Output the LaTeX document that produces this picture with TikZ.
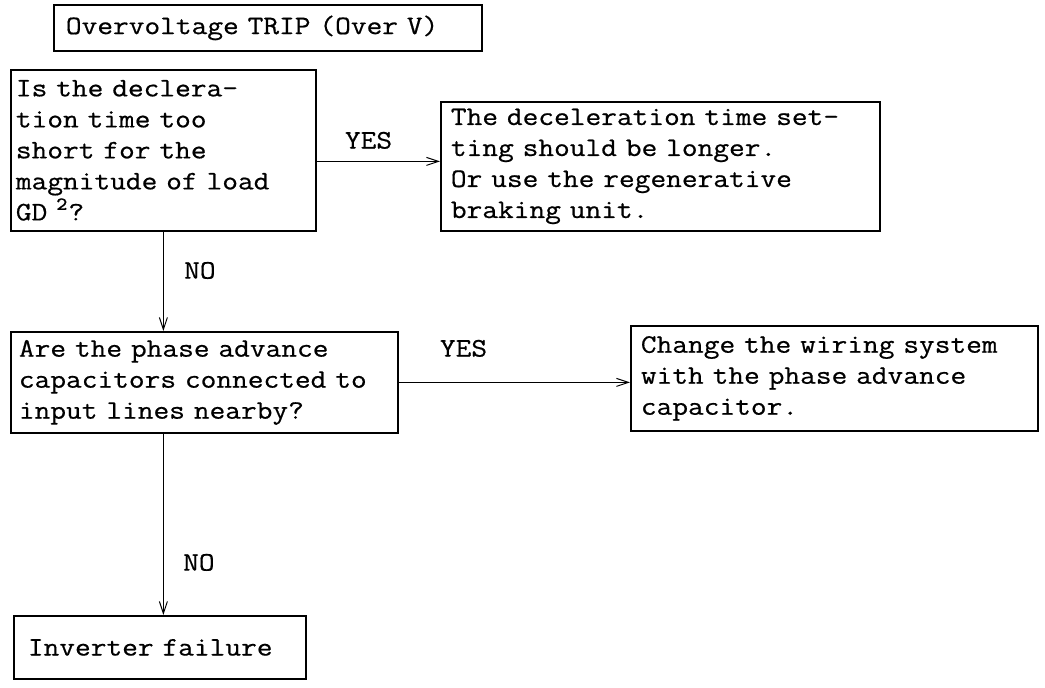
\documentclass[tikz,border=0pt]{standalone}
\usepackage{fontspec}
\setmonofont{Latin Modern Mono}[FakeStretch=1.143, FakeBold=0.6]
\usetikzlibrary{arrows.meta,positioning}

\begin{document}
\begin{tikzpicture}[
  x=0.5pt, y=-0.5pt,
  every node/.style={font=\ttfamily\fontsize{13.35}{15.5}\selectfont},
  box/.style={
    draw,
    line width=0.9pt,
    anchor=north west,
    inner ysep=0pt,
    align=left
  },
  arr/.style={-{Straight Barb[length=6pt,width=4pt]}, line width=0.5pt},
  lbl/.style={inner sep=0pt}
]
\useasboundingbox (0,0) rectangle (1045,688);

% --- boxes ---
\node[box, inner xsep=6pt, text width=202pt, minimum height=23pt] (trip) at (53,4)
  {Overvoltage TRIP (Over V)};
\node[box, inner xsep=2.5pt, text width=147.5pt, minimum height=80.5pt] (q1) at (10,69)
  {Is the declera-\\tion time too\\short for the\\magnitude of load\\GD~\textsuperscript{2}?};
\node[box, inner xsep=5pt, text width=209.5pt, minimum height=64.5pt] (a1) at (440,101)
  {The deceleration time set-\\ting should be longer.\\Or use the regenerative\\braking unit.};
\node[box, inner xsep=4pt, text width=185.5pt, minimum height=50.5pt] (q2) at (10,331)
  {Are the phase advance\\capacitors connected to\\input lines nearby?};
\node[box, inner xsep=5pt, text width=193.5pt, minimum height=52.5pt] (a2) at (630,325)
  {Change the wiring system\\with the phase advance\\capacitor.};
\node[box, inner xsep=7pt, text width=132pt, minimum height=31.5pt] (fail) at (13,615)
  {Inverter failure};

% --- connectors ---
\draw[arr] ([yshift=-5.5pt]q1.east) coordinate (y1) -- (y1 -| a1.west)
  node[lbl, pos=0.42, yshift=10.5pt] (yes1) {YES};
\draw[arr] (q1.south) -- (q1.south |- q2.north)
  node[lbl, pos=0.39, xshift=18.25pt] (no1) {NO};
\draw[arr] (q2.east) -- (q2.east -| a2.west)
  node[lbl, pos=0.28, yshift=17pt] (yes2) {YES};
\draw[arr] (q1.south |- q2.south) -- (q1.south |- fail.north)
  node[lbl, pos=0.71, xshift=17.75pt] (no2) {NO};

\end{tikzpicture}
\end{document}
